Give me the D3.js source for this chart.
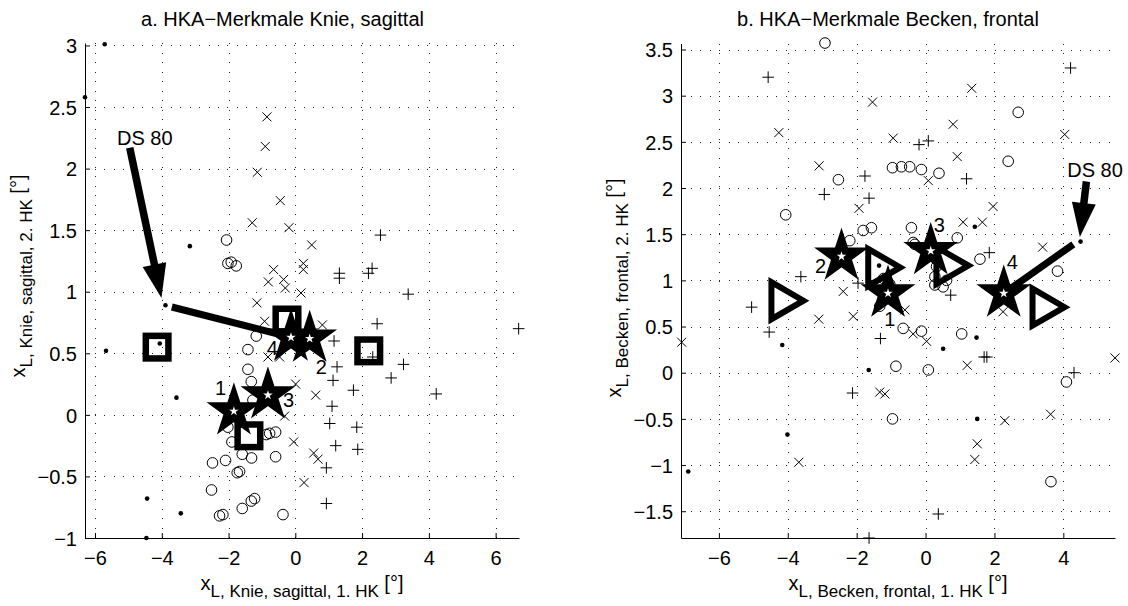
<!DOCTYPE html>
<html>
<head>
<meta charset="utf-8">
<script src="https://cdn.jsdelivr.net/npm/d3@7"></script>
<style>
  body { margin: 0; background: #fff; }
  svg { display: block; font-family: "Liberation Sans", Arial, Helvetica, sans-serif; }
</style>
</head>
<body>
<svg id="chart" width="1128" height="606"></svg>
<script>
// ---------- a. Knie, sagittal ----------
const knieXTicks = [-6, -4, -2, 0, 2, 4, 6];
const knieYTicks = [-1, -0.5, 0, 0.5, 1, 1.5, 2, 2.5, 3];
const knieXLim = [-6.3, 6.7];
const knieYLim = [-1, 3.02];

const knieDots = [[-5.71, 3.01], [-6.3, 2.58], [-3.16, 1.37], [-3.89, 0.89], [-5.67, 0.52],
  [-4.06, 0.58], [-3.56, 0.14], [-4.44, -0.68], [-3.43, -0.8], [-4.46, -1.0]];
const knieCross = [[-0.85, 2.42], [-0.9, 2.18], [-1.14, 1.97], [-0.45, 1.74], [-1.29, 1.56],
  [-0.19, 1.52], [0.49, 1.38], [0.24, 1.23], [0.24, 1.18], [-0.65, 1.18], [-0.81, 1.08],
  [-0.35, 1.1], [-0.3, 1.03], [0.17, 0.99], [-1.15, 0.91], [-0.92, 0.76], [0.81, 0.73],
  [-0.82, 0.47], [-0.47, 0.47], [0.01, 0.25], [0.61, 0.16], [-0.32, -0.01], [-0.05, -0.22],
  [0.55, -0.31], [0.68, -0.36], [0.26, -0.55]];
const kniePlus = [[2.55, 1.46], [2.3, 1.19], [2.19, 1.15], [1.32, 1.15], [1.32, 1.11],
  [3.38, 0.98], [2.45, 0.74], [6.69, 0.7], [1.16, 0.6], [1.25, 0.39], [3.24, 0.41],
  [2.87, 0.3], [1.13, 0.28], [4.22, 0.17], [1.74, 0.2], [1.1, 0.07], [1.03, -0.07],
  [1.84, -0.1], [1.21, -0.25], [1.87, -0.28], [0.93, -0.43], [0.93, -0.72], [2.32, 0.47]];
const knieCircles = [[-2.06, 1.42], [-2.02, 1.23], [-1.92, 1.24], [-1.77, 1.21], [-1.17, 0.64],
  [-1.42, 0.53], [-1.42, 0.37], [-1.32, 0.27], [-1.27, 0.12], [-2.02, -0.1], [-1.9, -0.22],
  [-0.77, -0.15], [-0.87, -0.16], [-0.59, -0.14], [-2.48, -0.39], [-2.09, -0.37],
  [-1.59, -0.32], [-1.31, -0.35], [-0.59, -0.34], [-1.74, -0.47], [-1.67, -0.46],
  [-2.51, -0.61], [-2.27, -0.82], [-2.17, -0.81], [-1.59, -0.76], [-1.32, -0.7],
  [-1.22, -0.68], [-0.37, -0.81]];
const knieSquares = [[-4.14, 0.55], [-1.39, -0.17], [-0.25, 0.77], [2.2, 0.52]];
const knieStars = [[-1.84, 0.03], [0.43, 0.62], [-0.82, 0.16], [-0.13, 0.63]];
const knieStarNames = ["1", "2", "3", "4"];
const knieStarLabelAt = [[-2.24, 0.16], [0.78, 0.33], [-0.2, 0.06], [-0.69, 0.49]];
const knieDsText = [-4.51, 2.19];
const knieDsArrow = [[-4.96, 2.17], [-4.01, 0.95]];
const knieDsLine = [[-3.7, 0.876], [-0.13, 0.63]];

// ---------- b. Becken, frontal ----------
const beckenXTicks = [-6, -4, -2, 0, 2, 4];
const beckenYTicks = [-1.5, -1, -0.5, 0, 0.5, 1, 1.5, 2, 2.5, 3, 3.5];
const beckenXLim = [-7.1, 5.5];
const beckenYLim = [-1.79, 3.565];

const beckenDots = [[-4.16, 0.3], [-1.65, 0.03], [-4.01, -0.67], [-6.89, -1.07], [4.5, 1.42],
  [1.43, 1.58], [-1.35, 1.16], [1.48, 0.38], [0.51, 0.26], [1.5, -0.5]];
const beckenCross = [[-1.54, 2.93], [-4.26, 2.6], [-3.09, 2.24], [-1.93, 1.78], [-2.39, 0.88],
  [-3.1, 0.58], [-2.1, 0.61], [-7.08, 0.33], [-3.68, -0.97], [1.34, 3.08], [0.8, 2.69],
  [4.04, 2.58], [-0.94, 2.54], [0.92, 2.34], [0.08, 2.08], [1.96, 1.8], [1.09, 1.63],
  [1.65, 1.63], [3.4, 1.36], [2.25, 0.66], [-0.6, 0.68], [-0.36, 0.42], [0.03, 0.34],
  [1.21, 0.08], [5.5, 0.16], [-1.33, -0.21], [-1.18, -0.23], [2.3, -0.52], [3.63, -0.45],
  [1.5, -0.77], [1.43, -0.94]];
const beckenPlus = [[-4.57, 3.2], [-1.76, 2.13], [-2.94, 1.93], [-1.64, 1.89], [-3.62, 1.04],
  [-1.96, 0.97], [-5.05, 0.71], [-4.54, 0.44], [-2.12, -0.22], [-1.64, -1.79], [4.21, 3.3],
  [-0.19, 2.47], [0.08, 2.51], [1.19, 2.1], [1.85, 1.3], [0.73, 0.84], [-1.31, 0.37],
  [1.7, 0.17], [1.78, 0.17], [4.31, 0.0], [0.37, -1.53]];
const beckenCircles = [[-2.92, 3.57], [-2.53, 2.09], [-4.06, 1.71], [-1.81, 1.54], [-1.57, 1.57],
  [-2.2, 1.43], [2.69, 2.82], [2.4, 2.29], [-0.96, 2.22], [-0.7, 2.23], [-0.46, 2.23],
  [-0.12, 2.2], [0.39, 2.16], [-0.41, 1.57], [0.92, 1.46], [-0.36, 1.41], [-0.31, 1.39],
  [1.58, 1.23], [3.83, 1.1], [0.32, 1.15], [0.27, 1.04], [0.61, 1.0], [0.27, 0.95],
  [0.51, 0.93], [-1.22, 1.02], [-1.04, 0.96], [-1.33, 0.72], [-0.65, 0.48], [-0.12, 0.45],
  [1.05, 0.42], [-0.86, 0.07], [0.08, 0.03], [4.09, -0.1], [-0.96, -0.5], [3.64, -1.18]];
const beckenTriangles = [[-4.01, 0.78], [-1.2, 1.14], [0.78, 1.16], [3.57, 0.71]];
const beckenStars = [[-1.09, 0.86], [-2.44, 1.26], [0.15, 1.32], [2.27, 0.86]];
const beckenStarNames = ["1", "2", "3", "4"];
const beckenStarLabelAt = [[-1.04, 0.51], [-3.05, 1.08], [0.4, 1.52], [2.52, 1.12]];
const beckenDsText = [4.92, 2.12];
const beckenDsArrow = [[4.67, 2.07], [4.48, 1.47]];
const beckenDsLine = [[4.29, 1.39], [2.27, 0.86]];

class hkaPanel {
  constructor(_config, _data) {
    this.config = _config;
    this.data = _data;
    this.initVis();
  }

  initVis() {
    let vis = this;
    const c = vis.config;
    vis.svg = d3.select(c.parentElement);
    vis.g = vis.svg.append("g");

    vis.x = d3.scaleLinear().domain(c.xLim).range([c.left, c.right]);
    vis.y = d3.scaleLinear().domain(c.yLim).range([c.bottom, c.top]);

    // dotted grid
    const grid = vis.g.append("g")
      .attr("stroke", "#222")
      .attr("stroke-width", 1)
      .attr("stroke-dasharray", "1,8.5")
      .attr("shape-rendering", "crispEdges");
    grid.selectAll(".gx").data(c.xTicks).join("line")
      .attr("x1", (d) => Math.round(vis.x(d)) + 0.5)
      .attr("x2", (d) => Math.round(vis.x(d)) + 0.5)
      .attr("y1", c.top).attr("y2", c.bottom);
    grid.selectAll(".gy").data(c.yTicks).join("line")
      .attr("class", "gy")
      .attr("y1", (d) => Math.round(vis.y(d)) + 0.5)
      .attr("y2", (d) => Math.round(vis.y(d)) + 0.5)
      .attr("x1", c.left).attr("x2", c.right);

    const fmt = d3.format("~g");

    vis.g.append("g")
      .attr("transform", `translate(0,${c.bottom})`)
      .call(d3.axisBottom(vis.x).tickValues(c.xTicks).tickFormat(fmt).tickSize(-5).tickSizeOuter(0))
      .call((g) => {
        g.select(".domain").attr("stroke", "#000");
        g.selectAll("line").attr("stroke", "#000");
        g.selectAll("text").attr("y", 27).attr("dy", null)
          .attr("font-size", 20).attr("font-family", null).attr("fill", "#000");
      });

    vis.g.append("g")
      .attr("transform", `translate(${c.left},0)`)
      .call(d3.axisLeft(vis.y).tickValues(c.yTicks).tickFormat(fmt).tickSize(-5).tickSizeOuter(0).tickPadding(8))
      .call((g) => {
        g.select(".domain").attr("stroke", "#000");
        g.selectAll("line").attr("stroke", "#000");
        g.selectAll("text").attr("font-size", 20).attr("font-family", null)
          .attr("fill", "#000").attr("dy", "0.36em");
      });

    // title
    vis.g.append("text")
      .attr("x", c.titleX).attr("y", 26)
      .attr("text-anchor", "middle")
      .attr("font-size", 20)
      .text(c.title);

    // x label
    const xl = vis.g.append("text")
      .attr("x", (c.left + c.right) / 2).attr("y", 590)
      .attr("text-anchor", "middle")
      .attr("font-size", 20);
    xl.append("tspan").text("x");
    xl.append("tspan").attr("dy", 7).attr("font-size", 17).text(c.xSub);
    xl.append("tspan").attr("dy", -7).text(" [°]");

    // y label
    const yl = vis.g.append("text")
      .attr("transform", `translate(${c.yLabelX},${c.yLabelY}) rotate(-90)`)
      .attr("text-anchor", "middle")
      .attr("font-size", 20);
    yl.append("tspan").text("x");
    yl.append("tspan").attr("dy", 7).attr("font-size", 17).text(c.ySub);
    yl.append("tspan").attr("dy", -7).text(" [°]");

    this.renderVis();
  }

  renderVis() {
    let vis = this;
    const d = vis.data;
    const px = (p) => vis.x(p[0]);
    const py = (p) => vis.y(p[1]);
    const marks = vis.g.append("g").attr("fill", "none").attr("stroke", "#000").attr("stroke-width", 1);

    marks.selectAll(".circ").data(d.circles).join("circle")
      .attr("class", "circ")
      .attr("cx", px).attr("cy", py).attr("r", 5.3);

    marks.selectAll(".cross").data(d.cross).join("path")
      .attr("class", "cross")
      .attr("transform", (p) => `translate(${px(p)},${py(p)})`)
      .attr("d", "M-4.5,-4.5L4.5,4.5M-4.5,4.5L4.5,-4.5");

    marks.selectAll(".plus").data(d.plus).join("path")
      .attr("class", "plus")
      .attr("transform", (p) => `translate(${px(p)},${py(p)})`)
      .attr("d", "M-5.8,0H5.8M0,-5.8V5.8");

    marks.selectAll(".dot").data(d.dots).join("circle")
      .attr("class", "dot")
      .attr("cx", px).attr("cy", py).attr("r", 2.3)
      .attr("fill", "#000").attr("stroke", "none");

    // connecting line of DS 80
    vis.g.append("line")
      .attr("x1", px(d.dsLine[0])).attr("y1", py(d.dsLine[0]))
      .attr("x2", px(d.dsLine[1])).attr("y2", py(d.dsLine[1]))
      .attr("stroke", "#000").attr("stroke-width", 7);

    // arrow with head
    const a0 = [px(d.dsArrow[0]), py(d.dsArrow[0])];
    const a1 = [px(d.dsArrow[1]), py(d.dsArrow[1])];
    const len = Math.hypot(a1[0] - a0[0], a1[1] - a0[1]);
    const u = [(a1[0] - a0[0]) / len, (a1[1] - a0[1]) / len];
    const n = [-u[1], u[0]];
    const hl = 34, hw = 12;
    const b = [a1[0] - u[0] * hl, a1[1] - u[1] * hl];
    vis.g.append("line")
      .attr("x1", a0[0]).attr("y1", a0[1])
      .attr("x2", b[0] + u[0] * 2).attr("y2", b[1] + u[1] * 2)
      .attr("stroke", "#000").attr("stroke-width", 7.5);
    vis.g.append("path")
      .attr("d", `M${a1[0]},${a1[1]}L${b[0] + n[0] * hw},${b[1] + n[1] * hw}L${b[0] - n[0] * hw},${b[1] - n[1] * hw}Z`)
      .attr("fill", "#000");

    vis.g.append("text")
      .attr("x", px(d.dsText)).attr("y", py(d.dsText))
      .attr("text-anchor", "middle").attr("font-size", 20)
      .text("DS 80");

    // big open markers
    if (d.squares) {
      vis.g.selectAll(".sq").data(d.squares).join("rect")
        .attr("class", "sq")
        .attr("x", (p) => px(p) - 11.3).attr("y", (p) => py(p) - 11.3)
        .attr("width", 22.6).attr("height", 22.6)
        .attr("fill", "none").attr("stroke", "#000").attr("stroke-width", 6.5);
    }
    if (d.triangles) {
      vis.g.selectAll(".tri").data(d.triangles).join("path")
        .attr("class", "tri")
        .attr("transform", (p) => `translate(${px(p)},${py(p)})`)
        .attr("d", "M-16,-18.5L16,0L-16,18.5Z")
        .attr("fill", "none").attr("stroke", "#000").attr("stroke-width", 6)
        .attr("stroke-linejoin", "miter").attr("stroke-miterlimit", 10);
    }

    // stars
    const ka = 0.8908130915292852;
    const bigStar = d3.symbol().type(d3.symbolStar).size(24 * 24 / ka);
    const smallStar = d3.symbol().type(d3.symbolStar).size(5 * 5 / ka);
    vis.g.selectAll(".star").data(d.stars).join("path")
      .attr("class", "star")
      .attr("transform", (p) => `translate(${px(p)},${py(p)})`)
      .attr("d", bigStar).attr("fill", "#000")
      .attr("stroke", "#000").attr("stroke-width", 3).attr("stroke-linejoin", "miter");
    vis.g.selectAll(".wstar").data(d.stars).join("path")
      .attr("class", "wstar")
      .attr("transform", (p) => `translate(${px(p)},${py(p)})`)
      .attr("d", smallStar).attr("fill", "#fff");

    vis.g.selectAll(".slab").data(d.starLabelAt).join("text")
      .attr("class", "slab")
      .attr("x", px).attr("y", py)
      .attr("text-anchor", "middle").attr("font-size", 20)
      .text((p, i) => d.starNames[i]);
  }
}

new hkaPanel({
  parentElement: "#chart",
  left: 85, right: 519, top: 43, bottom: 538,
  xLim: knieXLim, yLim: knieYLim, xTicks: knieXTicks, yTicks: knieYTicks,
  title: "a. HKA\u2212Merkmale Knie, sagittal", titleX: 282.5,
  xSub: "L, Knie, sagittal, 1. HK", ySub: "L, Knie, sagittal, 2. HK",
  yLabelX: 25, yLabelY: 276
}, {
  dots: knieDots, cross: knieCross, plus: kniePlus, circles: knieCircles,
  squares: knieSquares, stars: knieStars, starNames: knieStarNames, starLabelAt: knieStarLabelAt,
  dsText: knieDsText, dsArrow: knieDsArrow, dsLine: knieDsLine
});

new hkaPanel({
  parentElement: "#chart",
  left: 681, right: 1115, top: 43.5, bottom: 538,
  xLim: beckenXLim, yLim: beckenYLim, xTicks: beckenXTicks, yTicks: beckenYTicks,
  title: "b. HKA\u2212Merkmale Becken, frontal", titleX: 888,
  xSub: "L, Becken, frontal, 1. HK", ySub: "L, Becken, frontal, 2. HK",
  yLabelX: 621, yLabelY: 288
}, {
  dots: beckenDots, cross: beckenCross, plus: beckenPlus, circles: beckenCircles,
  triangles: beckenTriangles, stars: beckenStars, starNames: beckenStarNames, starLabelAt: beckenStarLabelAt,
  dsText: beckenDsText, dsArrow: beckenDsArrow, dsLine: beckenDsLine
});
</script>
</body>
</html>
